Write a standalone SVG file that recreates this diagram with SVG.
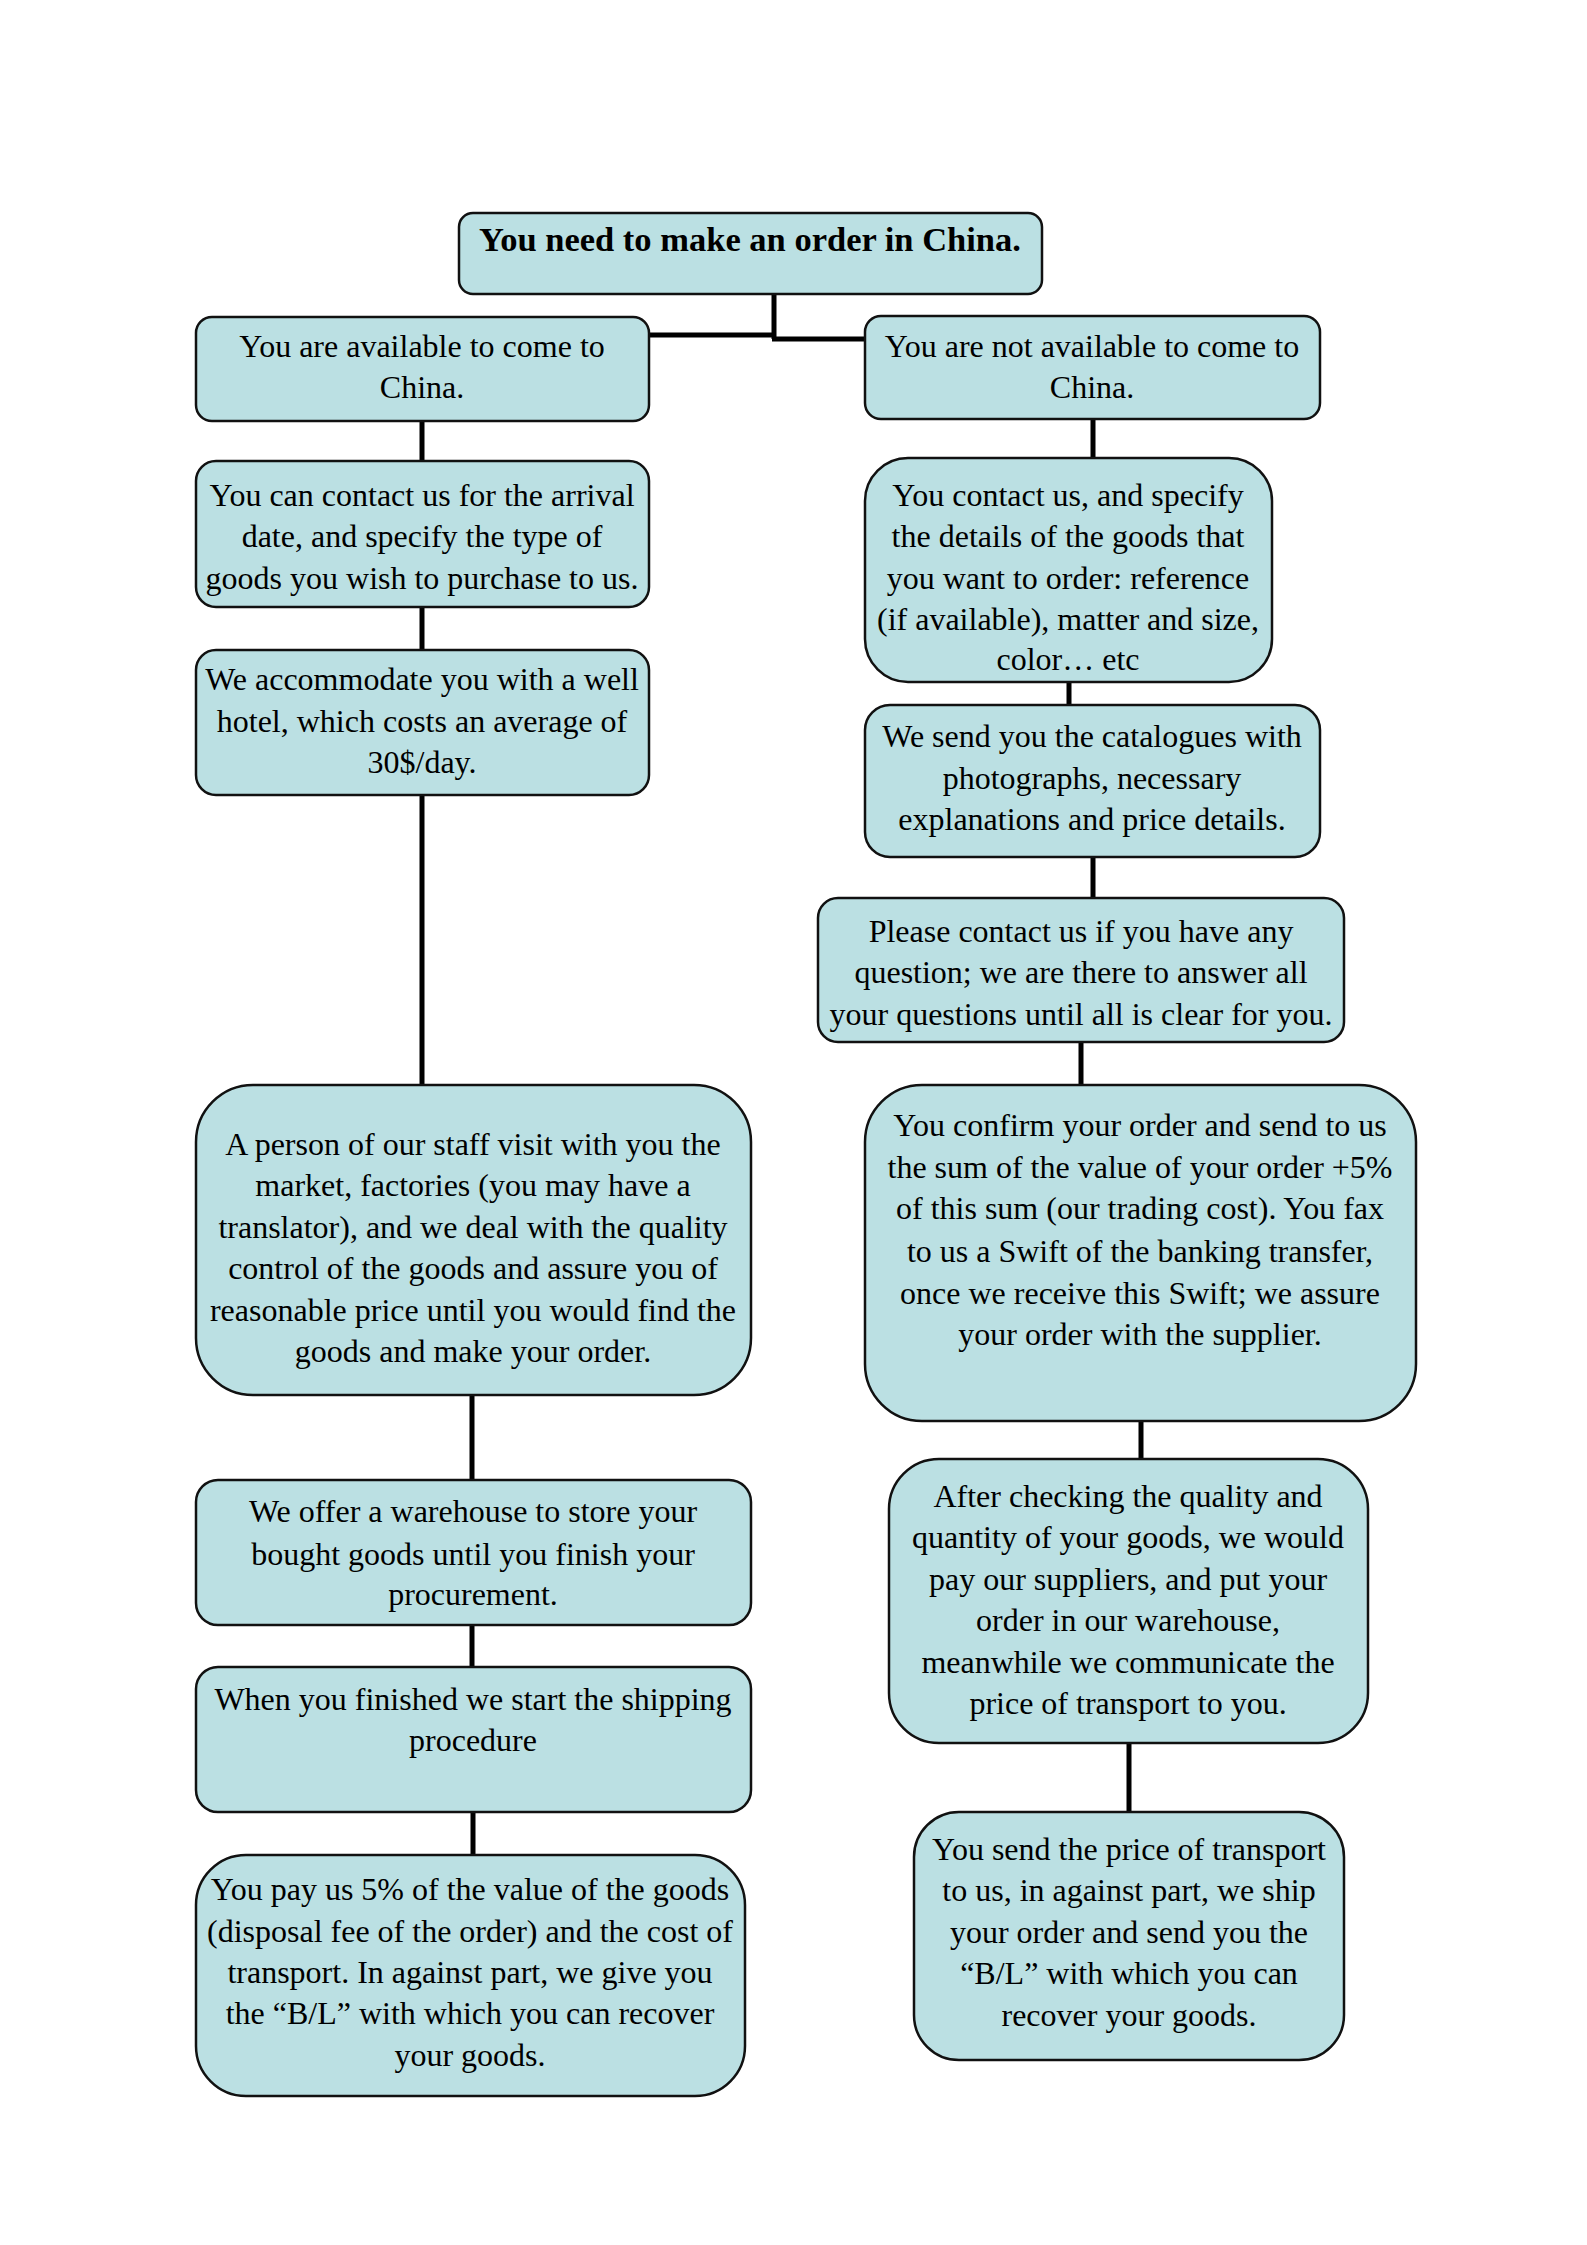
<svg xmlns="http://www.w3.org/2000/svg" width="1587" height="2245" viewBox="0 0 1587 2245">
<style>
.box{fill:#BBE0E3;stroke:#111;stroke-width:2.5}
.t{font-family:"Liberation Serif","Times New Roman",serif;font-size:32px;fill:#000;text-anchor:middle}
.b{font-weight:bold;font-size:34.5px}
.c{fill:none;stroke:#000;stroke-width:5}
</style>
<rect width="1587" height="2245" fill="#fff"/>
<g id="connectors">
<path class="c" d="M774 294V339M649 335H776M772 339H865"/>
<path class="c" d="M422 421V461M422 607V650M422 795V1085M472 1395V1480M472 1625V1667M473 1812V1855"/>
<path class="c" d="M1093 419V458M1069 682V705M1093 857V898M1081 1042V1085M1141 1421V1459M1129 1743V1812"/>
</g>
<g id="n0"><rect class="box" x="459" y="213" width="583" height="81" rx="14"/>
<text class="t b" x="750" y="251">You need to make an order in China.</text></g>
<g id="l1"><rect class="box" x="196" y="317" width="453" height="104" rx="16"/>
<text class="t" x="422" y="357">You are available to come to</text><text class="t" x="422" y="398">China.</text></g>
<g id="l2"><rect class="box" x="196" y="461" width="453" height="146" rx="20"/>
<text class="t" x="422" y="506">You can contact us for the arrival</text><text class="t" x="422" y="547">date, and specify the type of</text><text class="t" x="422" y="589">goods you wish to purchase to us.</text></g>
<g id="l3"><rect class="box" x="196" y="650" width="453" height="145" rx="20"/>
<text class="t" x="422" y="690">We accommodate you with a well</text><text class="t" x="422" y="732">hotel, which costs an average of</text><text class="t" x="422" y="773">30$/day.</text></g>
<g id="l4"><rect class="box" x="196" y="1085" width="555" height="310" rx="57"/>
<text class="t" x="473" y="1155">A person of our staff visit with you the</text><text class="t" x="473" y="1196">market, factories (you may have a</text><text class="t" x="473" y="1238">translator), and we deal with the quality</text><text class="t" x="473" y="1279">control of the goods and assure you of</text><text class="t" x="473" y="1321">reasonable price until you would find the</text><text class="t" x="473" y="1362">goods and make your order.</text></g>
<g id="l5"><rect class="box" x="196" y="1480" width="555" height="145" rx="22"/>
<text class="t" x="473" y="1522">We offer a warehouse to store your</text><text class="t" x="473" y="1565">bought goods until you finish your</text><text class="t" x="473" y="1605">procurement.</text></g>
<g id="l6"><rect class="box" x="196" y="1667" width="555" height="145" rx="22"/>
<text class="t" x="473" y="1710">When you finished we start the shipping</text><text class="t" x="473" y="1751">procedure</text></g>
<g id="l7"><rect class="box" x="196" y="1855" width="549" height="241" rx="50"/>
<text class="t" x="470" y="1900">You pay us 5% of the value of the goods</text><text class="t" x="470" y="1942">(disposal fee of the order) and the cost of</text><text class="t" x="470" y="1983">transport. In against part, we give you</text><text class="t" x="470" y="2024">the “B/L” with which you can recover</text><text class="t" x="470" y="2066">your goods.</text></g>
<g id="r1"><rect class="box" x="865" y="316" width="455" height="103" rx="16"/>
<text class="t" x="1092" y="357">You are not available to come to</text><text class="t" x="1092" y="398">China.</text></g>
<g id="r2"><rect class="box" x="865" y="458" width="407" height="224" rx="43"/>
<text class="t" x="1068" y="506">You contact us, and specify</text><text class="t" x="1068" y="547">the details of the goods that</text><text class="t" x="1068" y="589">you want to order: reference</text><text class="t" x="1068" y="630">(if available), matter and size,</text><text class="t" x="1068" y="670">color… etc</text></g>
<g id="r3"><rect class="box" x="865" y="705" width="455" height="152" rx="25"/>
<text class="t" x="1092" y="747">We send you the catalogues with</text><text class="t" x="1092" y="789">photographs, necessary</text><text class="t" x="1092" y="830">explanations and price details.</text></g>
<g id="r4"><rect class="box" x="818" y="898" width="526" height="144" rx="20"/>
<text class="t" x="1081" y="942">Please contact us if you have any</text><text class="t" x="1081" y="983">question; we are there to answer all</text><text class="t" x="1081" y="1025">your questions until all is clear for you.</text></g>
<g id="r5"><rect class="box" x="865" y="1085" width="551" height="336" rx="57"/>
<text class="t" x="1140" y="1136">You confirm your order and send to us</text><text class="t" x="1140" y="1178">the sum of the value of your order +5%</text><text class="t" x="1140" y="1219">of this sum (our trading cost). You fax</text><text class="t" x="1140" y="1262">to us a Swift of the banking transfer,</text><text class="t" x="1140" y="1304">once we receive this Swift; we assure</text><text class="t" x="1140" y="1345">your order with the supplier.</text></g>
<g id="r6"><rect class="box" x="889" y="1459" width="479" height="284" rx="50"/>
<text class="t" x="1128" y="1507">After checking the quality and</text><text class="t" x="1128" y="1548">quantity of your goods, we would</text><text class="t" x="1128" y="1590">pay our suppliers, and put your</text><text class="t" x="1128" y="1631">order in our warehouse,</text><text class="t" x="1128" y="1673">meanwhile we communicate the</text><text class="t" x="1128" y="1714">price of transport to you.</text></g>
<g id="r7"><rect class="box" x="914" y="1812" width="430" height="248" rx="45"/>
<text class="t" x="1129" y="1860">You send the price of transport</text><text class="t" x="1129" y="1901">to us, in against part, we ship</text><text class="t" x="1129" y="1943">your order and send you the</text><text class="t" x="1129" y="1984">“B/L” with which you can</text><text class="t" x="1129" y="2026">recover your goods.</text></g>
</svg>
